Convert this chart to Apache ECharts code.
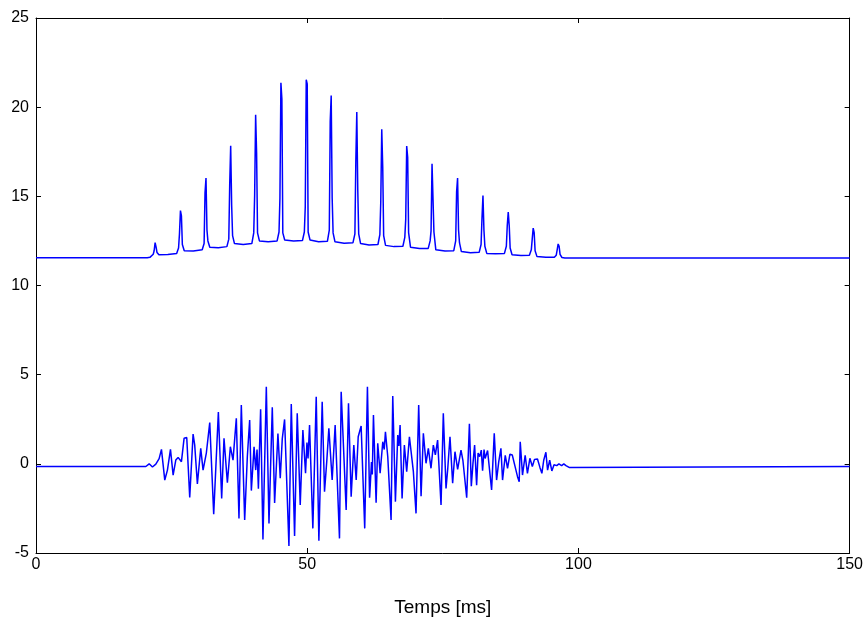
<!DOCTYPE html>
<html>
<head>
<meta charset="utf-8">
<script src="https://cdn.jsdelivr.net/npm/echarts@6/dist/echarts.min.js"></script>
<style>
html,body{margin:0;padding:0;background:#fff;}
#chart{width:866px;height:624px;}
</style>
</head>
<body>
<div id="chart"></div>
<script>
// Upper trace: time [ms] and amplitude
const upperT = [0, 20.5, 21.0,
  21.26, 21.61, 21.78, 21.96, 22.14, 22.31, 22.66, 24.3,
  25.93, 26.28, 26.45, 26.63, 26.81, 26.98, 27.33, 29.0,
  30.64, 30.99, 31.16, 31.34, 31.52, 31.69, 32.04, 33.6,
  35.19, 35.54, 35.71, 35.89, 36.07, 36.24, 36.59, 38.2,
  39.79, 40.14, 40.31, 40.49, 40.67, 40.84, 41.19, 42.8,
  44.45, 44.8, 44.97, 45.15, 45.33, 45.5, 45.85, 47.5,
  49.12, 49.47, 49.64, 49.82, 50.0, 50.17, 50.52, 52.1,
  53.72, 54.07, 54.24, 54.42, 54.6, 54.77, 55.12, 56.8,
  58.44, 58.79, 58.96, 59.14, 59.32, 59.49, 59.84, 61.4,
  63.04, 63.39, 63.56, 63.74, 63.92, 64.09, 64.44, 66.0,
  67.64, 67.99, 68.16, 68.34, 68.52, 68.69, 69.04, 70.7,
  72.31, 72.66, 72.83, 73.01, 73.19, 73.36, 73.71, 75.4,
  77.02, 77.37, 77.54, 77.72, 77.9, 78.07, 78.42, 80.1,
  81.7, 82.05, 82.22, 82.4, 82.58, 82.75, 83.1, 84.7,
  86.36, 86.71, 86.88, 87.06, 87.24, 87.41, 87.76, 89.4,
  90.96, 91.31, 91.48, 91.66, 91.84, 92.01, 92.36, 94.0,
  95.56, 95.91, 96.08, 96.26, 96.44, 96.61, 96.96, 97.5,
  150];
const upperV = [11.55, 11.55, 11.58,
  11.57, 11.75, 11.95, 12.40, 12.15, 11.85, 11.72, 11.74,
  11.8, 12.1, 12.9, 14.2, 13.9, 12.3, 11.95, 11.93,
  12.0, 12.35, 15.2, 16.03, 13.1, 12.5, 12.15, 12.12,
  12.18, 12.6, 15.64, 17.84, 14.5, 12.8, 12.35, 12.3,
  12.35, 12.95, 15.08, 19.58, 17.41, 12.95, 12.5, 12.45,
  12.5, 13.0, 14.9, 21.37, 20.46, 12.95, 12.55, 12.5,
  12.52, 13.0, 14.42, 21.54, 21.3, 13.0, 12.55, 12.45,
  12.48, 13.1, 19.19, 20.65, 14.89, 12.95, 12.45, 12.37,
  12.4, 12.9, 16.94, 19.73, 15.36, 12.9, 12.35, 12.27,
  12.3, 12.85, 14.7, 18.76, 16.66, 12.8, 12.25, 12.18,
  12.2, 12.7, 13.71, 17.82, 17.19, 12.96, 12.15, 12.07,
  12.08, 12.5, 13.06, 16.83, 16.8, 13.0, 12.0, 11.93,
  11.95, 12.5, 15.26, 16.03, 13.11, 12.4, 11.9, 11.84,
  11.86, 12.3, 13.77, 15.04, 13.1, 12.2, 11.8, 11.78,
  11.8, 12.2, 13.36, 14.12, 13.36, 12.1, 11.72, 11.68,
  11.7, 12.0, 12.6, 13.22, 12.96, 11.95, 11.62, 11.58,
  11.58, 11.7, 12.0, 12.33, 12.2, 11.75, 11.57, 11.54,
  11.54];

// Lower trace: time [ms] and amplitude
const lowerT = [0, 20.25, 20.86, 21.47, 22.09, 22.70, 23.13, 23.74, 24.23, 24.79,
  25.28, 25.77, 26.20, 26.81, 27.30, 27.79, 28.34, 28.96, 29.26, 29.75,
  30.37, 30.80, 31.41, 32.03, 32.76, 33.62, 34.23, 34.66, 35.28, 35.83,
  36.32, 36.93, 37.42, 37.85, 38.47, 38.96, 39.39, 39.70, 40.2, 40.5,
  40.75, 41.0, 41.41, 41.84, 42.46, 42.95, 43.56, 43.99, 44.6, 45.03,
  45.4, 45.83, 46.63, 47.06, 47.67, 48.16, 48.71, 49.20, 49.69, 49.95,
  50.15, 50.43, 51.04, 51.66, 52.15, 52.76, 53.19, 53.62, 53.99, 54.60,
  55.15, 55.95, 56.26, 57.18, 57.61, 58.10, 58.59, 59.03, 59.40, 59.94,
  60.6, 61.10, 61.5, 61.85, 62.0, 62.21, 62.70, 63.0, 63.44, 63.93,
  64.2, 64.42, 64.85, 65.46, 65.77, 66.26, 66.69, 66.9, 67.12, 67.49,
  67.91, 68.34, 68.84, 69.1, 69.57, 70.06, 70.55, 70.99, 71.41, 71.9,
  72.33, 72.82, 73.25, 73.62, 74.04, 74.67, 75.09, 75.59, 75.9, 76.32,
  76.81, 77.24, 77.73, 78.35, 78.7, 79.4, 79.9, 80.25, 80.55, 80.86,
  81.23, 81.5, 81.8, 82.09, 82.33, 82.6, 82.8, 83.25, 83.99, 84.48,
  84.91, 85.3, 85.71, 86.01, 86.51, 86.93, 87.37, 87.8, 88.2, 88.77,
  89.08, 89.27, 89.69, 90.18, 90.6, 91.05, 91.5, 91.9, 92.45, 92.9,
  93.26, 93.6, 94.0, 94.31, 94.7, 95.1, 95.5, 96.0, 96.4, 96.9,
  97.3, 97.7, 98.28, 98.6, 150];
const lowerV = [-0.15, -0.15, 0.0, -0.18, -0.02, 0.29, 0.81, -0.91, -0.35, 0.81,
  -0.63, 0.21, 0.36, 0.12, 1.43, 1.48, -1.88, 1.67, 1.05, -1.13,
  0.87, -0.35, 0.62, 2.31, -2.82, 2.91, -1.94, 1.43, -1.06, 0.96,
  0.21, 2.55, -3.06, 3.30, -3.15, 0.4, 2.46, -1.5, 0.95, -0.35,
  0.8, -1.4, 3.06, -4.24, 4.32, -3.34, 3.17, -2.2, 1.7, -0.8,
  1.4, 2.49, -4.61, 3.35, -4.05, 2.83, -2.31, 1.90, -0.53, 1.2,
  0.3, 2.18, -3.62, 3.76, -4.31, 3.48, -1.56, 0.21, 1.99, -0.91,
  2.18, -4.18, 4.04, -2.59, 3.39, -1.84, 1.05, -0.91, 1.52, 2.12,
  -3.62, 4.32, -1.9, 0.1, -0.6, 2.74, -2.18, 1.15, -0.53, 1.24,
  0.8, 1.80, 0.4, -3.15, 3.80, -2.12, 1.61, 1.0, 2.18, -1.94,
  1.05, -0.44, 1.52, 1.45, -0.44, -2.78, 3.30, -1.81, 1.71, 0.03,
  0.87, -0.25, 1.05, 0.5, 1.33, -2.31, 2.83, -1.38, -0.3, 1.52,
  -1.09, 0.68, -0.31, 0.77, 0.2, -1.9, 2.25, -1.25, 0.0, 1.05,
  -1.2, 0.6, 0.4, 0.77, -0.38, 0.8, 0.3, 0.75, -1.47, 1.71,
  -0.91, 0.1, 0.87, -0.91, 0.48, -0.25, 0.54, 0.5, 0.0, -0.72,
  -1.0, 1.24, -0.63, 0.48, -0.53, 0.31, -0.15, 0.25, 0.27, -0.2,
  -0.53, 0.2, 0.65, -0.35, 0.2, -0.4, -0.05, -0.1, 0.0, -0.1,
  0.0, -0.1, -0.2, -0.15, -0.15];

const xTicks = {min: 0, max: 150, interval: 50};
const yTicks = {min: -5, max: 25, interval: 5};
const xName = 'Temps [ms]';

const font = "'Liberation Sans Narrow', 'Liberation Sans', Arial, sans-serif";
const chart = echarts.init(document.getElementById('chart'), null, {renderer: 'canvas'});

const frameLine = {show: true, onZero: false, lineStyle: {color: '#000', width: 1}};
const tick = {show: true, inside: true, length: 5, lineStyle: {color: '#000', width: 1}};

chart.setOption({
  animation: false,
  backgroundColor: '#fff',
  grid: {left: 36, right: 15, top: 18, bottom: 71, containLabel: false},
  xAxis: [
    {type: 'value', position: 'bottom', min: xTicks.min, max: xTicks.max, interval: xTicks.interval,
     axisLine: frameLine, axisTick: tick, splitLine: {show: false},
     axisLabel: {color: '#000', fontFamily: font, fontSize: 16, margin: 4},
     name: xName, nameLocation: 'middle', nameGap: 45,
     nameTextStyle: {color: '#000', fontFamily: "'Liberation Sans', Arial, sans-serif", fontSize: 19}},
    {type: 'value', position: 'top', min: xTicks.min, max: xTicks.max, interval: xTicks.interval,
     axisLine: frameLine, axisTick: tick, splitLine: {show: false}, axisLabel: {show: false}}
  ],
  yAxis: [
    {type: 'value', position: 'left', min: yTicks.min, max: yTicks.max, interval: yTicks.interval,
     axisLine: frameLine, axisTick: tick, splitLine: {show: false},
     axisLabel: {color: '#000', fontFamily: font, fontSize: 16, margin: 7}},
    {type: 'value', position: 'right', min: yTicks.min, max: yTicks.max, interval: yTicks.interval,
     axisLine: frameLine, axisTick: tick, splitLine: {show: false}, axisLabel: {show: false}}
  ],
  series: [
    {type: 'line', xAxisIndex: 0, yAxisIndex: 0, showSymbol: false, symbol: 'none',
     lineStyle: {color: '#0000ff', width: 1.5}, data: upperT.map((t, i) => [t, upperV[i]])},
    {type: 'line', xAxisIndex: 0, yAxisIndex: 0, showSymbol: false, symbol: 'none',
     lineStyle: {color: '#0000ff', width: 1.5}, data: lowerT.map((t, i) => [t, lowerV[i]])}
  ]
});
</script>
</body>
</html>
